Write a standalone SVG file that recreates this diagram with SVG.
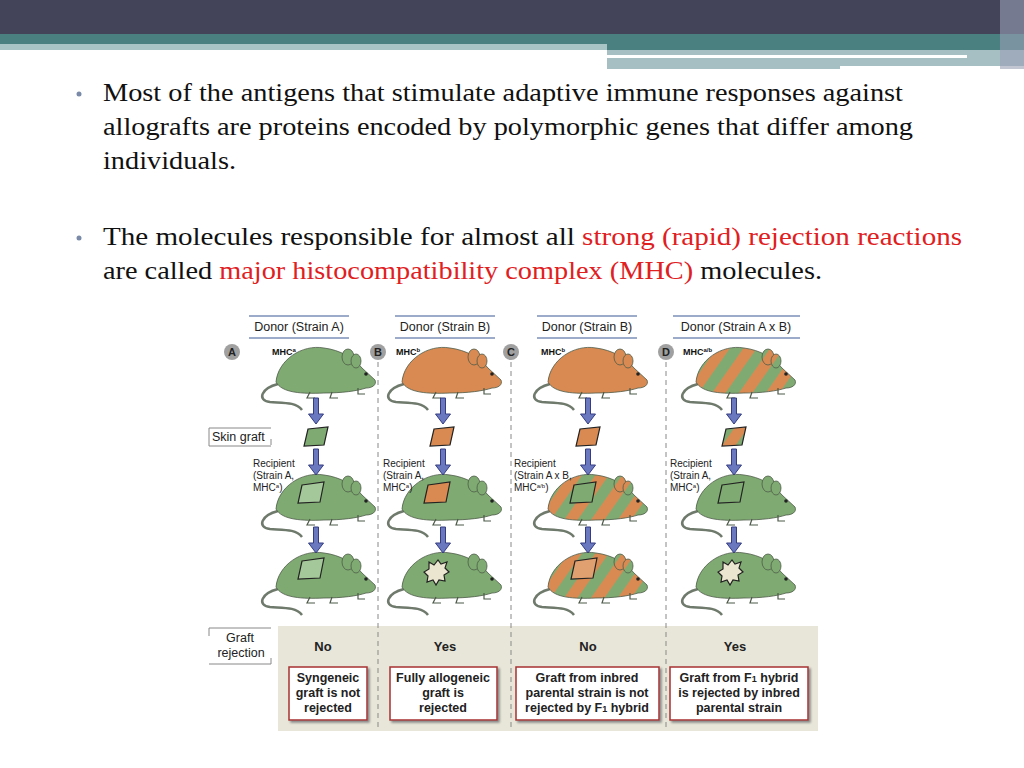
<svg xmlns="http://www.w3.org/2000/svg" xmlns:xlink="http://www.w3.org/1999/xlink" width="1024" height="768" viewBox="0 0 1024 768">
<style>
.b{font-family:"Liberation Serif",serif;font-size:25px;fill:#111}
.r{fill:#e0201e}
.s{font-family:"Liberation Sans",Arial,sans-serif}
.hd{font-size:12.5px;fill:#222}
.mhc{font-size:9px;font-weight:bold;fill:#111}
.rc{font-size:10px;fill:#222}
.ans{font-size:13px;font-weight:bold;fill:#222;text-anchor:middle}
.bx{font-size:12.5px;font-weight:bold;fill:#222;text-anchor:middle}
.hl{stroke:#7d8fb8;stroke-width:1.5}
.dash{stroke:#888;stroke-width:1;stroke-dasharray:5,4}
</style>
<defs>
<pattern id="stripe" width="22" height="22" patternUnits="userSpaceOnUse" patternTransform="rotate(35)">
<rect width="22" height="22" fill="#d98a52"/><rect width="11" height="22" fill="#7fab72"/>
</pattern>
<g id="mouse">
<path d="M16,44 C0,48 -6,60 8,62 C22,63 34,62 40,70" fill="none" stroke="#6f7a6c" stroke-width="2.5"/>
<path d="M14,42 C16,20 40,4 62,8 C78,10 92,18 100,28 L113,40 C115,45 110,48 104,48 C95,51 80,53 62,53 C40,54 20,53 14,42 Z" stroke="#4d5a48" stroke-width="0.8"/>
<ellipse cx="86" cy="17" rx="6" ry="8" stroke="#4d5a48" stroke-width="0.8"/>
<ellipse cx="94" cy="21" rx="5" ry="7" stroke="#4d5a48" stroke-width="0.8"/>
<circle cx="104" cy="34" r="1.8" fill="#222"/>
<path d="M48,52 l-3,6 h8 M70,52 l-2,6 h8 M96,48 l0,6 h7" fill="none" stroke="#4d5a48" stroke-width="1.2"/>
</g>
<g id="arrow"><path d="M-2.5,0 h5 v16 h5 l-7.5,10 l-7.5,-10 h5 z" fill="#6a78c0" stroke="#353c80" stroke-width="1"/></g>
<filter id="sh"><feDropShadow dx="2" dy="2" stdDeviation="1" flood-color="#888"/></filter>
</defs>
<rect width="1024" height="768" fill="#fff"/>
<g id="header">
<rect x="0" y="0" width="1024" height="34" fill="#43435a"/>
<rect x="0" y="34" width="1024" height="16" fill="#4a8080"/>
<rect x="0" y="44" width="607" height="6" fill="#a8c4c4"/>
<rect x="607" y="50" width="417" height="19" fill="#a5bfc2"/>
<rect x="607" y="55" width="360" height="3" fill="#fff"/>
<rect x="840" y="66" width="184" height="4" fill="#fff"/>
<rect x="1000" y="0" width="24" height="69" fill="#9aa0b5" opacity="0.6"/>
</g>
<g id="text">
<circle cx="79" cy="94" r="2.5" fill="#7a8aa8"/>
<text class="b" x="103" y="101" textLength="800" lengthAdjust="spacingAndGlyphs">Most of the antigens that stimulate adaptive immune responses against</text>
<text class="b" x="103" y="135" textLength="810" lengthAdjust="spacingAndGlyphs">allografts are proteins encoded by polymorphic genes that differ among</text>
<text class="b" x="103" y="169" textLength="133" lengthAdjust="spacingAndGlyphs">individuals.</text>
<circle cx="79" cy="238" r="2.5" fill="#7a8aa8"/>
<text class="b" x="103" y="245" textLength="859" lengthAdjust="spacingAndGlyphs">The molecules responsible for almost all <tspan class="r">strong (rapid) rejection reactions</tspan></text>
<text class="b" x="103" y="279" textLength="719" lengthAdjust="spacingAndGlyphs">are called <tspan class="r">major histocompatibility complex (MHC)</tspan> molecules.</text>
</g>
<g id="figure" class="s">
<rect x="278" y="626" width="540" height="105" fill="#e8e6d8"/>
<g id="dividers">
<line class="dash" x1="378" y1="362" x2="378" y2="731"/>
<line class="dash" x1="511" y1="362" x2="511" y2="731"/>
<line class="dash" x1="666" y1="362" x2="666" y2="731"/>
</g>
<g id="headers">
<line class="hl" x1="249" y1="316" x2="349" y2="316"/><line class="hl" x1="249" y1="338" x2="349" y2="338"/>
<text class="hd" x="299" y="331" text-anchor="middle">Donor (Strain A)</text>
<line class="hl" x1="395" y1="316" x2="495" y2="316"/><line class="hl" x1="395" y1="338" x2="495" y2="338"/>
<text class="hd" x="445" y="331" text-anchor="middle">Donor (Strain B)</text>
<line class="hl" x1="537" y1="316" x2="637" y2="316"/><line class="hl" x1="537" y1="338" x2="637" y2="338"/>
<text class="hd" x="587" y="331" text-anchor="middle">Donor (Strain B)</text>
<line class="hl" x1="673" y1="316" x2="800" y2="316"/><line class="hl" x1="673" y1="338" x2="800" y2="338"/>
<text class="hd" x="736" y="331" text-anchor="middle">Donor (Strain A x B)</text>
</g>
<g id="letters" font-size="11" font-weight="bold" text-anchor="middle" fill="#222">
<circle cx="232" cy="352" r="8" fill="#a0a0a0"/><text x="232" y="356">A</text>
<circle cx="378" cy="352" r="8" fill="#a0a0a0"/><text x="378" y="356">B</text>
<circle cx="511" cy="352" r="8" fill="#a0a0a0"/><text x="511" y="356">C</text>
<circle cx="666" cy="352" r="8" fill="#a0a0a0"/><text x="666" y="356">D</text>
</g>
<g id="mice">
<use href="#mouse" x="262" y="340" fill="#7fab72"/>
<use href="#mouse" x="388" y="340" fill="#d98a52"/>
<use href="#mouse" x="534" y="340" fill="#d98a52"/>
<use href="#mouse" x="682" y="340" fill="url(#stripe)"/>
<use href="#mouse" x="262" y="467" fill="#7fab72"/>
<use href="#mouse" x="388" y="467" fill="#7fab72"/>
<use href="#mouse" x="534" y="467" fill="url(#stripe)"/>
<use href="#mouse" x="682" y="467" fill="#7fab72"/>
<use href="#mouse" x="262" y="545" fill="#7fab72"/>
<use href="#mouse" x="388" y="545" fill="#7fab72"/>
<use href="#mouse" x="534" y="545" fill="url(#stripe)"/>
<use href="#mouse" x="682" y="545" fill="#7fab72"/>
</g>
<g id="mhc">
<text class="mhc" x="272" y="355">MHC<tspan font-size="6" dy="-3">a</tspan></text>
<text class="mhc" x="396" y="355">MHC<tspan font-size="6" dy="-3">b</tspan></text>
<text class="mhc" x="541" y="355">MHC<tspan font-size="6" dy="-3">b</tspan></text>
<text class="mhc" x="683" y="355">MHC<tspan font-size="6" dy="-3">a/b</tspan></text>
</g>
<g id="side">
<path d="M209,428 h62 M209,428 v18 M271,445 v-6 M209,446 h62" stroke="#888" fill="none"/>
<text class="hd" x="212" y="441" font-size="12">Skin graft</text>
<path d="M209,628 h62 M209,628 v8 M209,664 h62 M271,664 v-6" stroke="#888" fill="none"/>
<text class="hd" x="240" y="642" text-anchor="middle" font-size="12">Graft</text>
<text class="hd" x="241" y="657" text-anchor="middle" font-size="12">rejection</text>
</g>
<g id="recip">
<text class="rc" x="253" y="467">Recipient</text><text class="rc" x="253" y="479">(Strain A,</text><text class="rc" x="253" y="491">MHC<tspan font-size="6" dy="-3">a</tspan><tspan dy="3">)</tspan></text>
<text class="rc" x="383" y="467">Recipient</text><text class="rc" x="383" y="479">(Strain A,</text><text class="rc" x="383" y="491">MHC<tspan font-size="6" dy="-3">a</tspan><tspan dy="3">)</tspan></text>
<text class="rc" x="514" y="467">Recipient</text><text class="rc" x="514" y="479">(Strain A x B,</text><text class="rc" x="514" y="491">MHC<tspan font-size="6" dy="-3">a/b</tspan><tspan dy="3">)</tspan></text>
<text class="rc" x="670" y="467">Recipient</text><text class="rc" x="670" y="479">(Strain A,</text><text class="rc" x="670" y="491">MHC<tspan font-size="6" dy="-3">a</tspan><tspan dy="3">)</tspan></text>
</g>
<g id="grafts" stroke="#222" stroke-width="1.2">
<path d="M308,429 l20,-2 l-4,18 l-20,1 z" fill="#7fab72"/>
<path d="M434,429 l20,-2 l-4,18 l-20,1 z" fill="#d98a52"/>
<path d="M580,429 l20,-2 l-4,18 l-20,1 z" fill="#d98a52"/>
<path d="M726,429 l20,-2 l-4,18 l-20,1 z" fill="url(#stripe)"/>
<path d="M302,485 l22,-3 l-4,20 l-22,1 z" fill="#a5c89a"/>
<path d="M428,485 l22,-3 l-4,20 l-22,1 z" fill="#d98a52"/>
<path d="M574,485 l22,-3 l-4,20 l-22,1 z" fill="#7fab72"/>
<path d="M722,485 l22,-3 l-4,20 l-22,1 z" fill="#7fab72"/>
<path d="M302,561 l22,-3 l-4,20 l-22,1 z" fill="#a5c89a"/>
<path d="M429,562 l5,3 l4,-5 l3,4 l6,-2 l-2,6 l4,4 l-5,3 l1,6 l-6,-1 l-3,5 l-3,-5 l-6,2 l1,-6 l-4,-4 l5,-3 z" fill="#ebe6cf"/>
<path d="M575,561 l22,-3 l-4,20 l-22,1 z" fill="#e0a070"/>
<path d="M723,562 l5,3 l4,-5 l3,4 l6,-2 l-2,6 l4,4 l-5,3 l1,6 l-6,-1 l-3,5 l-3,-5 l-6,2 l1,-6 l-4,-4 l5,-3 z" fill="#ebe6cf"/>
</g>
<g id="connectors">
<use href="#arrow" x="316" y="398"/><use href="#arrow" x="443" y="398"/><use href="#arrow" x="588" y="398"/><use href="#arrow" x="734" y="398"/>
<use href="#arrow" x="316" y="449"/><use href="#arrow" x="443" y="449"/><use href="#arrow" x="588" y="449"/><use href="#arrow" x="734" y="449"/>
<use href="#arrow" x="316" y="527"/><use href="#arrow" x="443" y="527"/><use href="#arrow" x="588" y="527"/><use href="#arrow" x="734" y="527"/>
</g>
<g id="answers">
<text class="ans" x="323" y="651">No</text>
<text class="ans" x="445" y="651">Yes</text>
<text class="ans" x="588" y="651">No</text>
<text class="ans" x="735" y="651">Yes</text>
</g>
<g id="boxes">
<g filter="url(#sh)" fill="#fff" stroke="#a83030" stroke-width="1.5">
<rect x="289" y="667" width="78" height="53"/>
<rect x="390" y="667" width="107" height="53"/>
<rect x="516" y="667" width="143" height="53"/>
<rect x="670" y="667" width="138" height="53"/>
</g>
<text class="bx" x="328" y="682">Syngeneic</text><text class="bx" x="328" y="697">graft is not</text><text class="bx" x="328" y="712">rejected</text>
<text class="bx" x="443" y="682">Fully allogeneic</text><text class="bx" x="443" y="697">graft is</text><text class="bx" x="443" y="712">rejected</text>
<text class="bx" x="587" y="682">Graft from inbred</text><text class="bx" x="587" y="697">parental strain is not</text><text class="bx" x="587" y="712">rejected by F<tspan font-size="9">1</tspan> hybrid</text>
<text class="bx" x="739" y="682">Graft from F<tspan font-size="9">1</tspan> hybrid</text><text class="bx" x="739" y="697">is rejected by inbred</text><text class="bx" x="739" y="712">parental strain</text>
</g>
</g>
</svg>
